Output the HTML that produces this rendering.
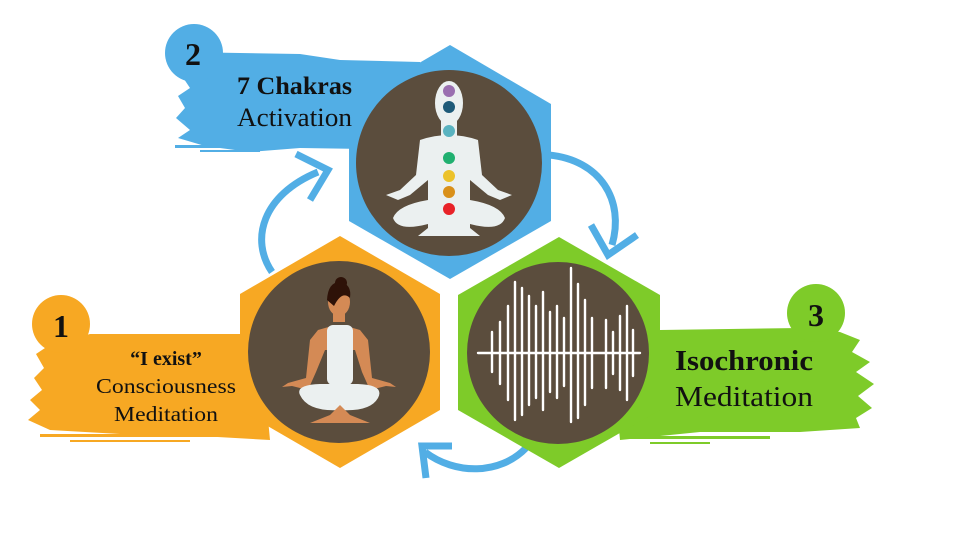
<!DOCTYPE html>
<html><head><meta charset="utf-8"><style>
html,body{margin:0;padding:0;background:#fff;}
svg{display:block}
text{font-family:"Liberation Serif",serif;}
</style></head><body>
<svg width="960" height="540" viewBox="0 0 960 540" xmlns="http://www.w3.org/2000/svg">
<g fill="#52aee5">
<path d="M180,52 L300,54 L340,60 L420,62 L430,150 L300,148 L250,152 L205,146 L178,138 L190,130 L176,118 L185,108 L178,96 L190,88 L182,76 L196,68 Z"/>
<circle cx="194" cy="53" r="29"/>
<rect x="175" y="145" width="140" height="3"/>
<rect x="200" y="150" width="60" height="2"/>
</g>
<g fill="#f7a823">
<path d="M90,334 L240,334 L260,334 L270,440 L200,436 L120,434 L50,430 L28,420 L40,410 L30,400 L42,390 L34,378 L44,368 L36,354 L48,346 Z"/>
<circle cx="61" cy="324" r="29"/>
<rect x="40" y="434" width="200" height="3"/>
<rect x="70" y="440" width="120" height="2"/>
</g>
<g fill="#7ecb29">
<path d="M660,330 L800,328 L840,332 L860,340 L852,352 L870,362 L856,372 L874,384 L858,396 L872,408 L856,418 L860,428 L800,432 L700,432 L620,440 L610,330 Z"/>
<circle cx="816" cy="313" r="29"/>
<rect x="620" y="436" width="150" height="3"/>
<rect x="650" y="442" width="60" height="2"/>
</g>
<g fill="none" stroke="#52aee5" stroke-width="7" stroke-linecap="butt">
<path d="M272,272 C250,240 262,195 318,172"/>
<path d="M296,154 L328,170 L310,200"/>
<path d="M549,155 C600,160 625,200 612,245"/>
<path d="M591,225 L608,255 L637,235"/>
<path d="M526,448 C500,475 455,475 425,452"/>
<path d="M452,446 L422,446 L426,478"/>
</g>
<polygon points="450,45 551,104 551,221 450,279 349,221 349,104" fill="#52aee5"/>
<polygon points="340,236 440,294 440,410 340,468 240,410 240,294" fill="#f7a823"/>
<polygon points="559,237 660,295 660,410 559,468 458,410 458,295" fill="#7ecb29"/>
<circle cx="449" cy="163" r="93" fill="#5b4d3d"/>
<circle cx="339" cy="352" r="91" fill="#5b4d3d"/>
<circle cx="558" cy="353" r="91" fill="#5b4d3d"/>
<g fill="#ebf0f0">
<ellipse cx="449" cy="103" rx="14" ry="22"/>
<rect x="441" y="118" width="16" height="20"/>
<path d="M420,140 Q449,130 478,140 L482,175 L498,190 L512,195 L500,200 L488,195 L470,180 L470,200 Q500,205 505,218 Q500,232 470,224 L470,228 L480,236 L418,236 L428,228 L428,224 Q398,232 393,218 Q398,205 428,200 L428,180 L410,195 L398,200 L386,195 L400,190 L416,175 Z"/>
</g>
<circle cx="449" cy="91" r="6" fill="#9a6fb0"/>
<circle cx="449" cy="107" r="6" fill="#1e5a78"/>
<circle cx="449" cy="131" r="6" fill="#5ab3c0"/>
<circle cx="449" cy="158" r="6" fill="#20b070"/>
<circle cx="449" cy="176" r="6" fill="#ecc22a"/>
<circle cx="449" cy="192" r="6" fill="#d9901a"/>
<circle cx="449" cy="209" r="6" fill="#e82228"/>
<g>
<path d="M310,340 L318,330 L332,326 L346,326 L360,330 L368,340 L372,378 L390,383 L396,387 L386,386 L370,390 L362,372 L355,350 L325,350 L316,372 L308,390 L292,386 L282,387 L288,383 L306,378 Z" fill="#d48a55"/>
<rect x="327" y="325" width="26" height="60" rx="6" fill="#ebf0f0"/>
<rect x="333" y="308" width="12" height="14" fill="#d48a55"/>
<ellipse cx="339" cy="302" rx="11" ry="14" fill="#d48a55"/>
<path d="M327,300 Q328,282 340,282 Q352,284 350,298 Q342,290 334,306 Z" fill="#2e1208"/>
<circle cx="341" cy="283" r="6" fill="#2e1208"/>
<path d="M300,395 Q295,385 320,384 L358,384 Q385,385 378,398 Q370,412 340,410 Q308,412 300,395 Z" fill="#ebf0f0"/>
<path d="M310,423 L330,415 L340,405 L350,415 L370,423 Z" fill="#d48a55"/>
</g>
<g stroke="#fff" stroke-width="2.4" stroke-linecap="round">
<line x1="478" y1="353" x2="640" y2="353"/>
<line x1="492" y1="332" x2="492" y2="372"/>
<line x1="500" y1="322" x2="500" y2="384"/>
<line x1="508" y1="306" x2="508" y2="400"/>
<line x1="515" y1="282" x2="515" y2="420"/>
<line x1="522" y1="288" x2="522" y2="415"/>
<line x1="529" y1="296" x2="529" y2="405"/>
<line x1="536" y1="306" x2="536" y2="398"/>
<line x1="543" y1="292" x2="543" y2="410"/>
<line x1="550" y1="312" x2="550" y2="392"/>
<line x1="557" y1="306" x2="557" y2="398"/>
<line x1="564" y1="318" x2="564" y2="386"/>
<line x1="571" y1="268" x2="571" y2="422"/>
<line x1="578" y1="284" x2="578" y2="418"/>
<line x1="585" y1="300" x2="585" y2="405"/>
<line x1="592" y1="318" x2="592" y2="388"/>
<line x1="606" y1="320" x2="606" y2="388"/>
<line x1="613" y1="332" x2="613" y2="374"/>
<line x1="620" y1="316" x2="620" y2="390"/>
<line x1="627" y1="306" x2="627" y2="400"/>
<line x1="633" y1="330" x2="633" y2="376"/>
</g>
<text x="193" y="65" font-size="32" font-weight="bold" text-anchor="middle" fill="#111">2</text>
<text x="61" y="337" font-size="32" font-weight="bold" text-anchor="middle" fill="#111">1</text>
<text x="816" y="326" font-size="32" font-weight="bold" text-anchor="middle" fill="#111">3</text>
<text x="237" y="94" font-size="25" font-weight="bold" fill="#111" textLength="115" lengthAdjust="spacingAndGlyphs">7 Chakras</text>
<text x="237" y="126" font-size="26" fill="#111" textLength="115" lengthAdjust="spacingAndGlyphs">Activation</text>
<text x="166" y="365" font-size="20" font-weight="bold" text-anchor="middle" fill="#111">“I exist”</text>
<text x="166" y="393" font-size="21" text-anchor="middle" fill="#111" textLength="140" lengthAdjust="spacingAndGlyphs">Consciousness</text>
<text x="166" y="421" font-size="21" text-anchor="middle" fill="#111" textLength="104" lengthAdjust="spacingAndGlyphs">Meditation</text>
<text x="675" y="370" font-size="28" font-weight="bold" fill="#111" textLength="138" lengthAdjust="spacingAndGlyphs">Isochronic</text>
<text x="675" y="406" font-size="28" fill="#111" textLength="138" lengthAdjust="spacingAndGlyphs">Meditation</text>
</svg>
</body></html>
